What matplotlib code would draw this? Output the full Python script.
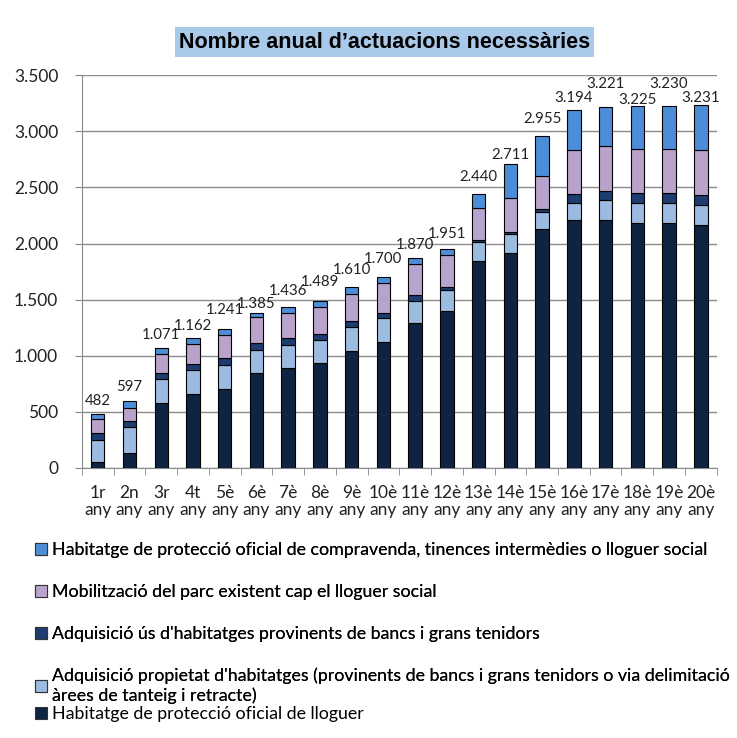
import numpy as np
import matplotlib
matplotlib.use("Agg")
import matplotlib.pyplot as plt
from matplotlib.patches import Patch

# dades
anys = ["1r", "2n", "3r", "4t", "5è", "6è", "7è", "8è", "9è", "10è",
        "11è", "12è", "13è", "14è", "15è", "16è", "17è", "18è", "19è", "20è"]
lloguer = [52, 137, 576, 656, 700, 843, 888, 932, 1045, 1125,
           1294, 1401, 1843, 1917, 2126, 2209, 2209, 2185, 2185, 2167]
propietat = [198, 231, 214, 217, 217, 208, 207, 208, 208, 208,
             196, 184, 173, 167, 157, 154, 178, 178, 178, 175]
us_bancs = [62, 53, 59, 53, 60, 59, 60, 53, 59, 50,
            51, 30, 15, 21, 21, 83, 83, 89, 89, 89]
mobilitzacio = [120, 110, 166, 178, 207, 238, 223, 244, 238, 262,
                276, 282, 282, 303, 299, 392, 398, 395, 395, 401]
compravenda = [50, 66, 56, 58, 57, 37, 58, 52, 60, 55,
               53, 54, 127, 303, 352, 356, 353, 378, 383, 399]
totals = [482, 597, 1071, 1162, 1241, 1385, 1436, 1489, 1610, 1700,
          1870, 1951, 2440, 2711, 2955, 3194, 3221, 3225, 3230, 3231]

noms = [
    "Habitatge de protecció oficial de lloguer",
    "Adquisició propietat d'habitatges (provinents de bancs i grans tenidors o via delimitació\nàrees de tanteig i retracte)",
    "Adquisició ús d'habitatges provinents de bancs i grans tenidors",
    "Mobilització del parc existent cap el lloguer social",
    "Habitatge de protecció oficial de compravenda, tinences intermèdies o lloguer social",
]
colors = ["#0f2342", "#9bbbe0", "#1d3d70", "#b9a3cd", "#4d8dd8"]

# desplaçament vertical de cada etiqueta (px per sobre de la barra)
label_gap = [13, 14, 13, 12, 19, 9, 16, 19, 17, 18,
             13, 15, 17, 9, 17, 12, 23, 6, 22, 7]

plt.rcParams['font.family'] = ['Lato', 'DejaVu Sans']

fig = plt.figure(figsize=(7.37, 7.38), dpi=100)
ax = fig.add_axes([0.111, 0.366, 0.8615, 0.532])

x = np.arange(len(anys))
series = [lloguer, propietat, us_bancs, mobilitzacio, compravenda]
bottom = np.zeros(len(anys))
for vals, col in zip(series, colors):
    ax.bar(x, vals, width=0.42, bottom=bottom, color=col,
           edgecolor="black", linewidth=0.8, zorder=3)
    bottom += np.array(vals)

# etiquetes dels totals
for i, t in enumerate(totals):
    lab = "{:,}".format(t).replace(",", ".")
    ax.annotate(lab, (x[i], t), xytext=(0, label_gap[i] * 0.72),
                textcoords="offset points", ha="center", va="center",
                fontsize=10.8, color="#222222")

ax.set_xlim(-0.5, len(anys) - 0.5)
ax.set_ylim(0, 3500)
ax.set_yticks(np.arange(0, 3501, 500))
ax.set_yticklabels(["{:,}".format(v).replace(",", ".") for v in range(0, 3501, 500)],
                   fontsize=12.5, color="#222222")
ax.set_xticks(x)
ax.set_xticklabels([a + "\nany" for a in anys], fontsize=12.5, linespacing=1.1,
                   color="#222222")
ax.set_xticks(np.arange(-0.5, len(anys)), minor=True)
ax.tick_params(axis="x", which="major", length=0, pad=12)
ax.tick_params(axis="x", which="minor", length=5, color="#888888")
ax.tick_params(axis="y", length=5, color="#888888", pad=12)
ax.grid(axis="y", color="#8c8c8c", linewidth=1, zorder=0)
for s in ["top", "right"]:
    ax.spines[s].set_visible(False)
ax.spines["left"].set_color("#888888")
ax.spines["bottom"].set_color("#888888")

fig.text(0.522, 0.943, "Nombre anual d\u2019actuacions necessàries", ha="center", va="center",
         fontsize=15.5, fontweight="bold", family=['Liberation Sans', 'DejaVu Sans'],
         bbox=dict(facecolor="#a9c9ea", edgecolor="none", pad=3))

handles = [Patch(facecolor=c, edgecolor="#333333", linewidth=0.8) for c in colors]
order = [4, 3, 2, 1]
leg1 = fig.legend([handles[i] for i in order], [noms[i] for i in order],
                  loc="upper left", bbox_to_anchor=(0.048, 0.265), frameon=False,
                  fontsize=12.8, handlelength=0.65, handleheight=0.65, handletextpad=0.3,
                  labelspacing=1.45, borderaxespad=0, borderpad=0)
fig.add_artist(leg1)
fig.legend([handles[0]], [noms[0]], loc="upper left", bbox_to_anchor=(0.048, 0.043),
           frameon=False, fontsize=12.8, handlelength=0.65, handleheight=0.65,
           handletextpad=0.3, borderaxespad=0, borderpad=0)

fig.savefig("out.png", dpi=100)
